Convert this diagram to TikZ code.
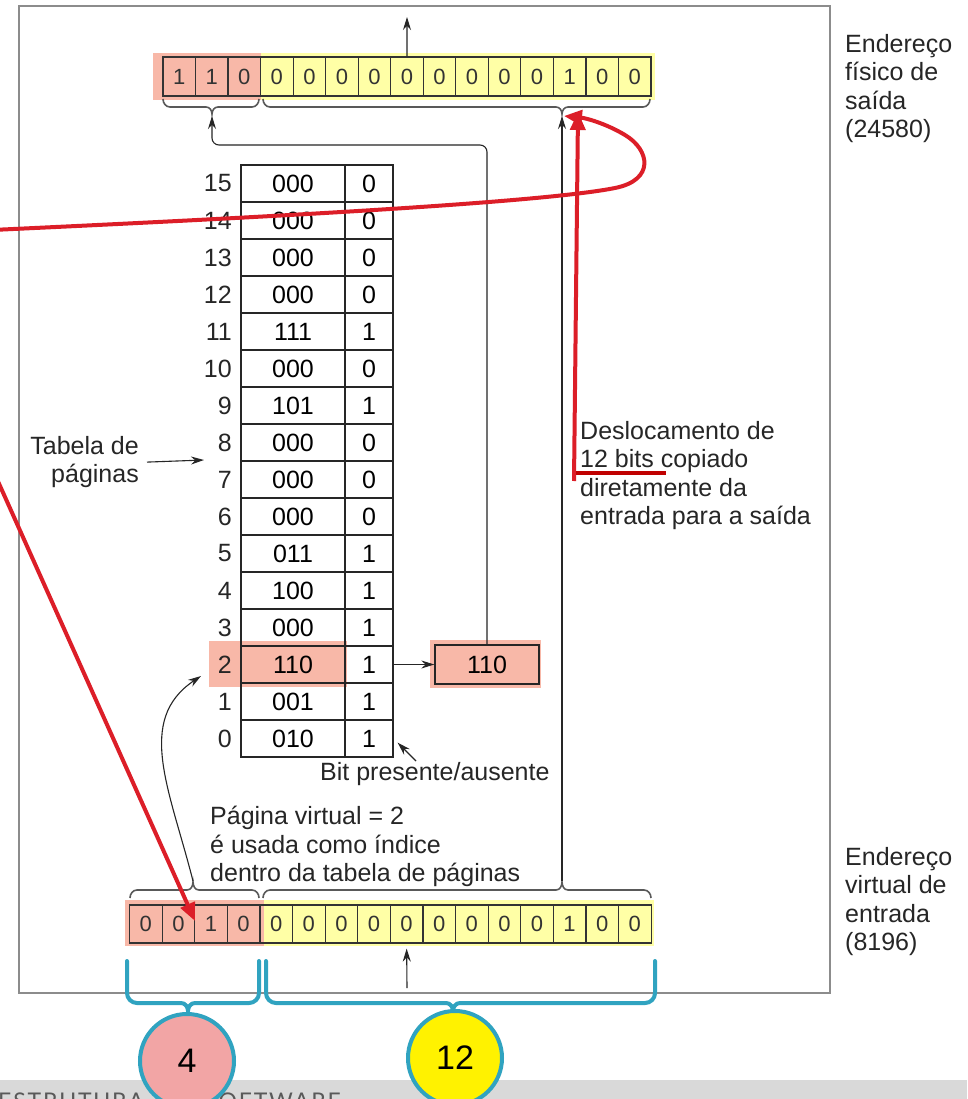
\documentclass[tikz,border=0pt]{standalone}
\usepackage{fontspec}
\setmainfont{Liberation Sans}
\newfontfamily\footfont[LetterSpace=8]{Lato}
\usetikzlibrary{arrows.meta}
\definecolor{pinkhl}{RGB}{248,184,168}
\definecolor{yelhl}{RGB}{255,255,166}
\definecolor{redln}{RGB}{220,30,40}
\definecolor{darkred}{RGB}{192,0,0}
\definecolor{tealc}{RGB}{48,163,192}
\definecolor{circpink}{RGB}{242,165,165}
\definecolor{framegray}{RGB}{140,140,140}
\definecolor{footgray}{RGB}{217,217,217}
\tikzset{
 lbl/.style={font=\fontsize{25}{28.5}\selectfont, inner sep=0pt, align=left, text=black!85},
 cell/.style={draw=black!80, line width=1.2pt, minimum width=32.5pt, minimum height=39pt, inner sep=0pt, font=\fontsize{22}{22}\selectfont, text=black!80},
 tcell/.style={draw=black!85, line width=1.3pt, minimum height=37pt, inner sep=0pt, font=\fontsize{25}{25}\selectfont},
 arr/.style={draw=black!85, line width=1.1pt, -{Stealth[length=13pt,width=8pt]}},
 brc/.style={draw=black!65, line width=1.6pt},
 tbrc/.style={draw=tealc, line width=4pt, line cap=round},
 redarr/.style={draw=redln, line width=4pt, -{Triangle[length=18pt,width=15pt]}},
 hlp/.style={fill=pinkhl},
 hly/.style={fill=yelhl},
 circ/.style={circle, draw=tealc, line width=4pt, minimum size=94pt, inner sep=0pt, font=\fontsize{34}{34}\selectfont},
}
\newcommand{\DnBrace}[3]{\draw[brc] (#1,99) to[out=-90,in=180] ({#1+7},107) -- ({#3-6},107) to[out=0,in=90] (#3,114) to[out=90,in=180] ({#3+6},107) -- ({#2-7},107) to[out=0,in=-90] (#2,99);}
\newcommand{\UpBrace}[3]{\draw[brc] (#1,898) to[out=90,in=180] ({#1+7},890) -- ({#3-6},890) to[out=0,in=-90] (#3,882) to[out=-90,in=180] ({#3+6},890) -- ({#2-7},890) to[out=0,in=90] (#2,898);}
\newcommand{\TealBrace}[3]{\draw[tbrc] (#1,961) -- (#1,993) to[out=-90,in=180] ({#1+10},1003) -- ({#3-7},1003) to[out=0,in=90] (#3,1011) to[out=90,in=180] ({#3+7},1003) -- ({#2-10},1003) to[out=0,in=-90] (#2,993) -- (#2,961);}
\begin{document}
\begin{tikzpicture}[x=1pt,y=-1pt]
\useasboundingbox (0,0) rectangle (967,1099);
\fill[white] (0,0) rectangle (967,1099);
% frame
\draw[framegray, line width=2.5pt] (19,6) rectangle (830,993);
% side labels
\node[lbl, anchor=north west] (outlbl) at (845,34) {Endereço\\físico de\\saída\\(24580)};
\node[lbl, anchor=north west] (inlbl) at (845,847) {Endereço\\virtual de\\entrada\\(8196)};
% highlights (under the drawing)
\fill[hlp] (153,53) rectangle (261,100);
\fill[hly] (261,53) rectangle (655,100);
\fill[hlp] (125,900) rectangle (264,946);
\fill[hly] (264,900) rectangle (654,946);
\fill[hlp] (209,641) rectangle (347,687);
\fill[hlp] (430,640) rectangle (541,688);
% top register
\foreach \b [count=\i from 0] in {1,1,0,0,0,0,0,0,0,0,0,0,1,0,0}
  \node[cell] (t\i) at ({163+32.53*(\i+0.5)},76.5) {\b};
% bottom register
\foreach \b [count=\i from 0] in {0,0,1,0,0,0,0,0,0,0,0,0,0,1,0,0}
  \node[cell, minimum width=32.6pt, minimum height=38pt] (b\i) at ({129.5+32.6*(\i+0.5)},924) {\b};
% braces
\DnBrace{163}{259}{212}
\DnBrace{263}{650}{562}
\UpBrace{130}{259}{193}
\UpBrace{263}{651}{562}
% page table
\foreach \k/\f/\p in {15/000/0,14/000/0,13/000/0,12/000/0,11/111/1,10/000/0,9/101/1,8/000/0,7/000/0,6/000/0,5/011/1,4/100/1,3/000/1,2/110/1,1/001/1,0/010/1}
{
  \node[tcell, minimum width=104pt] (f\k) at (293,{183.5+(15-\k)*37}) {\f};
  \node[tcell, minimum width=48pt] (p\k) at (369,{183.5+(15-\k)*37}) {\p};
  \node[lbl, anchor=east] (i\k) at (232,{183.5+(15-\k)*37}) {\k};
}
% page frame box
\node[tcell, minimum width=104pt, minimum height=39pt] (pf) at (487,664.5) {110};
% labels
\node[lbl, anchor=north east, align=right] (tab) at (139,436) {Tabela de\\páginas};
\node[lbl, anchor=base west] (bit) at (320,780) {Bit presente/ausente};
\node[lbl, anchor=north west] (pv) at (210,806) {Página virtual = 2\\é usada como índice\\dentro da tabela de páginas};
\node[lbl, anchor=north west] (desl) at (580,421) {Deslocamento de\\12 bits copiado\\diretamente da\\entrada para a saída};
% coordinates
\coordinate (lbt) at (212,116);
\coordinate (rbt) at (562,116);
\coordinate (lbb) at (193,881);
\coordinate (rbb) at (562,881);
\coordinate (outtop) at (407,17);
\coordinate (inbot) at (407,988);
\coordinate (tabtip) at (204,460);
\coordinate (bitfrom) at (416,761);
\coordinate (idxtip) at (201,676);
% black arrows
\draw[arr] (p2.east) -- (pf.west);
\draw[arr, rounded corners=7pt] (pf.north) |- ([yshift=-29pt]lbt) -- (lbt);
\draw[arr] (rbb) -- (rbt);
\draw[arr] (t7.north) -- (outtop);
\draw[arr, shorten >=5pt] (inbot) -- (b8.south);
\draw[arr] ([xshift=8pt]tab.east) -- (tabtip);
\draw[arr] (bitfrom) -- ([xshift=4pt,yshift=15pt]p0.south east);
\draw[arr] (lbb) .. controls (170,790) and (135,720) .. (idxtip);
% red annotations
\coordinate (rA) at (-8,468);
\coordinate (rAtip) at (195,921);
\coordinate (rB) at (-8,230);
\coordinate (rBtip) at (564,116);
\coordinate (rC) at (574,481);
\coordinate (rCtip) at (578,112);
\coordinate (u1) at (576,473);
\coordinate (u2) at (666,473);
\draw[redarr] (rA) -- (rAtip);
\draw[redarr] (rB) .. controls (250,218) and (540,203) .. (615,188) .. controls (655,180) and (650,150) .. (625,135) .. controls (605,123) and (585,118) .. (rBtip);
\draw[redarr] (rC) -- (rCtip);
\draw[darkred, line width=3.5pt] (u1) -- (u2);
% teal braces
\TealBrace{127}{259}{188}
\TealBrace{266}{655}{453}
% footer
\fill[footgray] (0,1080) rectangle (967,1110);
\node[font=\footfont\fontsize{23}{23}\selectfont, text=black!65, anchor=base west, inner sep=0pt] (ft1) at (-2,1109) {ESTRUTURA};
\node[font=\footfont\fontsize{23}{23}\selectfont, text=black!65, anchor=base east, inner sep=0pt] (ft2) at (341,1109) {SOFTWARE};
% circles
\node[circ, fill=circpink] (c4) at (187,1061) {4};
\node[circ, fill=yellow] (c12) at (455,1058) {12};
\end{tikzpicture}
\end{document}
